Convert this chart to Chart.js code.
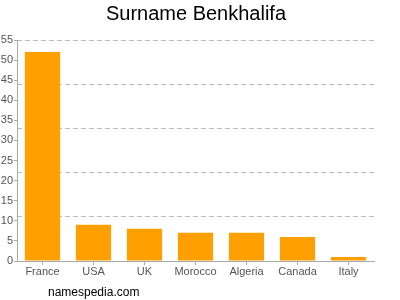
<!DOCTYPE html>
<html>
<head>
<meta charset="utf-8">
<script src="https://cdn.jsdelivr.net/npm/chart.js@4.4.1/dist/chart.umd.min.js"></script>
<style>
  html, body { margin: 0; padding: 0; background: #fff; }
  #wrap { position: relative; width: 400px; height: 300px; }
  #c { position: absolute; left: 0; top: 0; }
  #site { position: absolute; left: 48px; top: 285px; font: 12px "Liberation Sans", Arial, sans-serif; color: #000; }
</style>
</head>
<body>
<div id="wrap">
  <canvas id="c" width="400" height="300"></canvas>
  <div id="site">namespedia.com</div>
</div>
<script>
const categories = ["France", "USA", "UK", "Morocco", "Algeria", "Canada", "Italy"];
const counts = [52, 9, 8, 7, 7, 6, 1];
const titleText = "Surname Benkhalifa";
const yMax = 55;
const yLabelStep = 5;
const gridStep = 11;

const FONT = "'Liberation Sans', Arial, sans-serif";

new Chart(document.getElementById('c'), {
  type: 'bar',
  data: {
    labels: categories,
    datasets: [{
      data: counts,
      backgroundColor: '#ffa000',
      borderWidth: 0,
      categoryPercentage: 1,
      barPercentage: 0.69
    }]
  },
  options: {
    responsive: false,
    animation: false,
    devicePixelRatio: 1,
    layout: { padding: { left: 0, right: 8, top: 0, bottom: 0 } },
    plugins: {
      legend: { display: false },
      tooltip: { enabled: false },
      title: {
        display: true,
        text: titleText,
        color: '#000',
        font: { family: FONT, size: 20, weight: 'normal', lineHeight: 1.2 },
        padding: { top: 2, bottom: 14 }
      }
    },
    scales: {
      x: {
        type: 'category',
        offset: true,
        grid: { display: true, drawOnChartArea: false, offset: false, tickLength: 4, color: '#aaa' },
        border: { display: true, color: '#aaa' },
        ticks: { color: '#555', font: { family: FONT, size: 11 }, padding: 0, maxRotation: 0 },
        afterFit: s => { s.height = 39; }
      },
      y: {
        position: 'left',
        min: 0, max: yMax,
        grid: { display: true, drawOnChartArea: false, tickLength: 3, color: '#aaa' },
        border: { display: true, color: '#aaa' },
        ticks: { stepSize: yLabelStep, color: '#555', font: { family: FONT, size: 11 }, padding: 1 },
        afterFit: s => { s.width = 17; }
      },
      yGrid: {
        position: 'left',
        min: 0, max: yMax,
        grid: { display: true, drawTicks: false, color: '#bbb', lineWidth: 1 },
        border: { display: false, dash: [5, 3] },
        ticks: { display: false, stepSize: gridStep },
        afterFit: s => { s.width = 0; }
      },
      ySpacer: {
        position: 'right',
        min: 0, max: yMax,
        grid: { display: false, drawTicks: false },
        border: { display: false },
        ticks: { display: false },
        afterFit: s => { s.width = 18; }
      }
    }
  }
});
</script>
</body>
</html>
